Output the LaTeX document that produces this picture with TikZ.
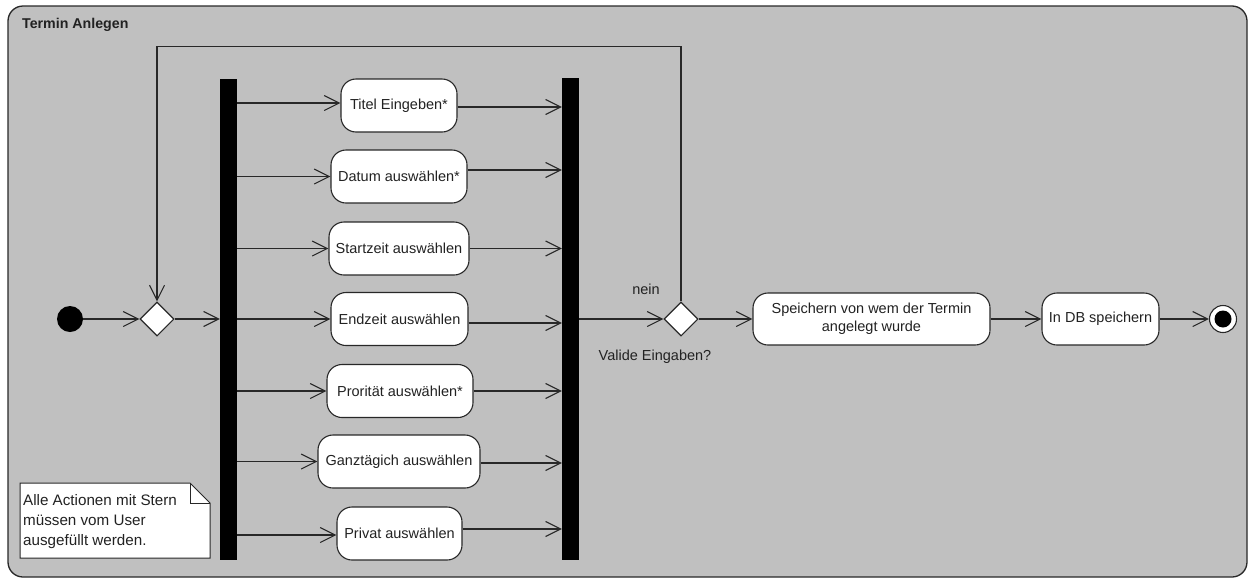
\documentclass[tikz,border=0pt]{standalone}
\usepackage{fontspec}
\setmainfont{Liberation Sans}
\usetikzlibrary{arrows.meta,shapes.geometric}
\definecolor{framegray}{RGB}{192,192,192}
\definecolor{ink}{RGB}{34,34,34}
\definecolor{edgecol}{RGB}{40,40,40}

\begin{document}
\begin{tikzpicture}[x=1pt,y=-1pt,
  every node/.style={font=\fontsize{14.5}{18}\selectfont, text=ink},
  flow/.style={draw=edgecol, line width=1.1pt, -{Straight Barb[length=15pt,width=15pt]}},
  action/.style={draw=edgecol, line width=1.1pt, fill=white, rounded corners=15pt,
                 minimum height=53pt, inner sep=2pt, align=center},
  bar/.style={fill=black, draw=none, minimum width=17pt, inner sep=0pt},
  branch/.style={diamond, draw=edgecol, fill=white, line width=1.1pt,
                 minimum width=34pt, minimum height=34pt, inner sep=0pt},
  startdot/.style={circle, fill=black, draw=none, minimum size=26pt, inner sep=0pt},
  enddot/.style={circle, fill=white, draw=edgecol, line width=1.1pt, minimum size=27pt, inner sep=0pt},
  plain/.style={inner sep=0pt}
]
\useasboundingbox (0,0) rectangle (1250,579);

% activity frame
\draw[draw=edgecol, line width=1.3pt, fill=framegray, rounded corners=15pt] (8,6) rectangle (1247,577);
\node[plain, anchor=base west, font=\bfseries\fontsize{14.2}{16}\selectfont] (title) at (22,28.5) {Termin Anlegen};

% control nodes
\node[startdot] (init) at (70,319) {};
\node[branch] (merge) at (157,319) {};
\node[bar, minimum height=481pt] (fork) at (228.5,319.5) {};
\node[bar, minimum height=482pt] (join) at (570.5,319) {};
\node[branch] (decision) at (681,319) {};
\node[enddot] (final) at (1223,319) {};
\fill[black] (final.center) circle[radius=8.5pt];

% actions between fork and join
\node[action, minimum width=116pt] (titel)  at (399,105.5)   {Titel Eingeben*};
\node[action, minimum width=136pt] (datum)  at (399,176.5)   {Datum auswählen*};
\node[action, minimum width=140pt] (start)  at (399,248.5)   {Startzeit auswählen};
\node[action, minimum width=137pt] (ende)   at (399.5,319)   {Endzeit auswählen};
\node[action, minimum width=146pt] (prio)   at (400,391)     {Prorität auswählen*};
\node[action, minimum width=162pt] (ganz)   at (399,461.5)   {Ganztägich auswählen};
\node[action, minimum width=125pt] (privat) at (399.5,533.5) {Privat auswählen};

% actions after the decision
\node[action, minimum width=237pt, minimum height=52pt] (speichern) at (871.5,319)
  {Speichern von wem der Termin\\angelegt wurde};
\node[action, minimum width=117pt, minimum height=52pt] (indb) at (1100.5,319) {In DB speichern};

% decision labels
\node[plain] (nein) at (646,289) {nein};
\node[plain] (valide) at (655,357) {Valide Eingaben?};

% note with folded corner
\draw[draw=edgecol, fill=white, line width=1pt] (20,483) -- (190,483) -- (210,503) -- (210,558) -- (20,558) -- cycle;
\draw[draw=edgecol, line width=0.8pt] (190,483) -- (190,503) -- (210,503);
\node[plain, anchor=north west, align=left, font=\fontsize{15.2}{20}\selectfont] (notetext) at (23,494)
  {Alle Actionen mit Stern\\müssen vom User\\ausgefüllt werden.};

% main flow
\draw[flow] (init.east) -- (merge.west);
\draw[flow] (merge.east) -- (fork.west |- merge.east);
\draw[flow] (join.east |- decision.west) -- (decision.west);
\draw[flow] (decision.east) -- (speichern.west);
\draw[flow] (speichern.east) -- (indb.west);
\draw[flow] (indb.east) -- (final.west);

% loop back when inputs are invalid
\draw[flow] (decision.north) -- ([yshift=255pt]decision.north) -| (merge.north);

% fork to actions
\draw[flow] ([yshift=2.5pt]titel.west -| fork.east) -- ([yshift=2.5pt]titel.west);
\draw[flow] (datum.west -| fork.east) -- (datum.west);
\draw[flow] (start.west -| fork.east) -- (start.west);
\draw[flow] (ende.west -| fork.east) -- (ende.west);
\draw[flow] (prio.west -| fork.east) -- (prio.west);
\draw[flow] (ganz.west -| fork.east) -- (ganz.west);
\draw[flow] ([yshift=-1.5pt]privat.west -| fork.east) -- ([yshift=-1.5pt]privat.west);

% actions to join
\draw[flow] ([yshift=-1.5pt]titel.east) -- ([yshift=-1.5pt]titel.east -| join.west);
\draw[flow] ([yshift=6.5pt]datum.east) -- ([yshift=6.5pt]datum.east -| join.west);
\draw[flow] (start.east) -- (start.east -| join.west);
\draw[flow] ([yshift=-4pt]ende.east) -- ([yshift=-4pt]ende.east -| join.west);
\draw[flow] (prio.east) -- (prio.east -| join.west);
\draw[flow] ([yshift=-1.5pt]ganz.east) -- ([yshift=-1.5pt]ganz.east -| join.west);
\draw[flow] ([yshift=4.5pt]privat.east) -- ([yshift=4.5pt]privat.east -| join.west);
\end{tikzpicture}
\end{document}
